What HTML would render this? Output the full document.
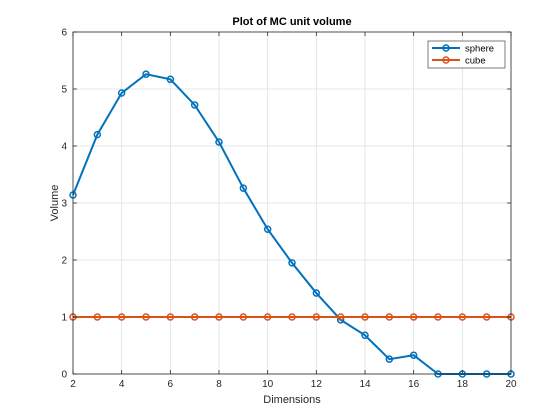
<!DOCTYPE html>
<html><head><meta charset="utf-8"><style>
body{margin:0;background:#fff;}
svg{display:block;font-family:"Liberation Sans",Arial,sans-serif;}
</style></head><body>
<svg id="chart" width="560" height="420" viewBox="0 0 560 420">
<rect x="0" y="0" width="560" height="420" fill="#fff"/>
<rect x="73" y="32" width="438" height="342" fill="#fff" stroke="none"/>
<g id="grid"></g>
<g id="series"></g>
<rect x="73" y="32" width="438" height="342" fill="none" stroke="#262626" stroke-width="0.8"/>
<g id="ticks"></g>
<text x="292" y="25" text-anchor="middle" font-size="11" font-weight="bold" fill="#000">Plot of MC unit volume</text>
<text x="292" y="403" text-anchor="middle" font-size="11" fill="#262626">Dimensions</text>
<text x="0" y="0" transform="translate(58,203) rotate(-90)" text-anchor="middle" font-size="11" fill="#262626">Volume</text>
<g>
<rect x="428" y="41" width="77" height="27" fill="#fff" stroke="#262626" stroke-width="0.6"/>
<g>
<line x1="432" y1="48" x2="460" y2="48" stroke="#0072BD" stroke-width="2"/>
<circle cx="446" cy="48" r="3" fill="none" stroke="#0072BD" stroke-width="1.5"/>
<text x="465" y="51.5" font-size="9.5" fill="#000">sphere</text>
</g>
<g>
<line x1="432" y1="60" x2="460" y2="60" stroke="#D95319" stroke-width="2"/>
<circle cx="446" cy="60" r="3" fill="none" stroke="#D95319" stroke-width="1.5"/>
<text x="465" y="63.5" font-size="9.5" fill="#000">cube</text>
</g>
</g>
</svg>
<script>
const dims=[2,3,4,5,6,7,8,9,10,11,12,13,14,15,16,17,18,19,20];
const sphere=[3.14,4.2,4.93,5.26,5.17,4.72,4.07,3.26,2.54,1.95,1.42,0.95,0.68,0.26,0.33,0,0,0,0];
const cube=[1,1,1,1,1,1,1,1,1,1,1,1,1,1,1,1,1,1,1];
const xTicks=[2,4,6,8,10,12,14,16,18,20];
const yTicks=[0,1,2,3,4,5,6];
const NS="http://www.w3.org/2000/svg";
const L=73,R=511,T=32,B=374;
const xs=v=>L+(v-2)/(20-2)*(R-L);
const ys=v=>B-(v-0)/(6-0)*(B-T);
function mk(tag,attrs,parent){const e=document.createElementNS(NS,tag);for(const k in attrs)e.setAttribute(k,attrs[k]);parent.appendChild(e);return e;}
const grid=document.getElementById('grid'),ticks=document.getElementById('ticks'),ser=document.getElementById('series');
xTicks.forEach(t=>{
 const g=mk('line',{x1:xs(t),x2:xs(t),y1:T,y2:B,stroke:'#dfdfdf','stroke-width':0.8},grid);
 
 
 mk('line',{x1:xs(t),x2:xs(t),y1:B,y2:B-4,stroke:'#262626','stroke-width':0.8},ticks);
 mk('line',{x1:xs(t),x2:xs(t),y1:T,y2:T+4,stroke:'#262626','stroke-width':0.8},ticks);
 const tx=mk('text',{x:xs(t),y:B+13,'text-anchor':'middle','font-size':10,fill:'#262626'},ticks);
 tx.textContent=t;
 
 
});
yTicks.forEach(t=>{
 const g=mk('line',{x1:L,x2:R,y1:ys(t),y2:ys(t),stroke:'#dfdfdf','stroke-width':0.8},grid);
 
 
 mk('line',{x1:L,x2:L+4,y1:ys(t),y2:ys(t),stroke:'#262626','stroke-width':0.8},ticks);
 mk('line',{x1:R,x2:R-4,y1:ys(t),y2:ys(t),stroke:'#262626','stroke-width':0.8},ticks);
 const tx=mk('text',{x:L-6,y:ys(t)+3.5,'text-anchor':'end','font-size':10,fill:'#262626'},ticks);
 tx.textContent=t;
 
 
});
function series(vals,color,name){
 const p=mk('polyline',{points:dims.map((d,i)=>xs(d)+','+ys(vals[i])).join(' '),fill:'none',stroke:color,'stroke-width':2},ser);
 
 
 dims.forEach((d,i)=>{
  const c=mk('circle',{cx:xs(d),cy:ys(vals[i]),r:3,fill:'none',stroke:color,'stroke-width':1.5},ser);
  
  
 });
}
series(sphere,'#0072BD','sphere');
series(cube,'#D95319','cube');
</script>
</body></html>
